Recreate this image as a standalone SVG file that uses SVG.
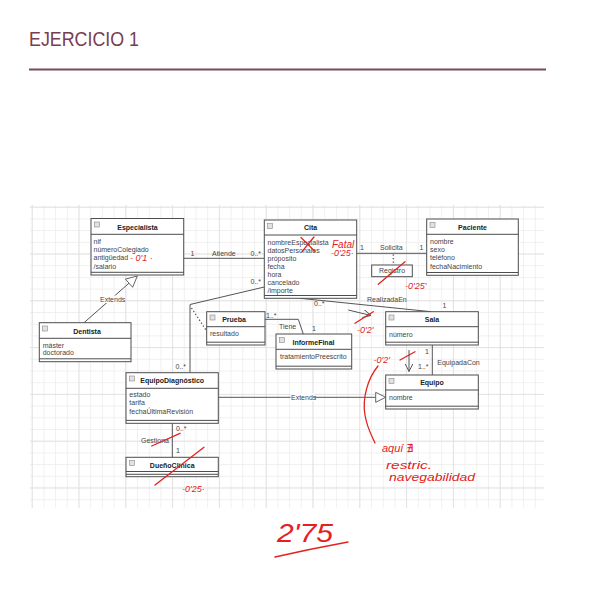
<svg xmlns="http://www.w3.org/2000/svg" width="600" height="611" viewBox="0 0 600 611">
<defs>
<pattern id="g" x="31.7" y="206.7" width="11.7" height="11.7" patternUnits="userSpaceOnUse"><path d="M0 0.4H11.7M0.4 0V11.7" stroke="#ebebeb" stroke-width="0.8" fill="none"/></pattern>
<pattern id="G" x="31.7" y="206.7" width="46.8" height="46.8" patternUnits="userSpaceOnUse"><path d="M0 0.4H46.8M0.4 0V46.8" stroke="#dedede" stroke-width="0.9" fill="none"/></pattern>
<marker id="open" viewBox="0 0 10 10" refX="10" refY="5" markerWidth="8" markerHeight="8" orient="auto" markerUnits="userSpaceOnUse"><path d="M0 0L10 5L0 10" fill="none" stroke="#555" stroke-width="1.2"/></marker>
</defs>
<style>
.box{fill:#fff;stroke:#4d4d4d;stroke-width:1}
.sep{stroke:#4d4d4d;stroke-width:1;fill:none}
.ic{fill:#e2e2e2;stroke:#888;stroke-width:0.6}
.t{font-family:"Liberation Sans",Arial,sans-serif;font-size:7px;fill:#444}
.ti{font-family:"Liberation Sans",Arial,sans-serif;font-size:7px;font-weight:bold;fill:#222;text-anchor:middle}
.ln{stroke:#555;stroke-width:1;fill:none}
.dot{stroke:#555;stroke-width:1.3;fill:none;stroke-dasharray:1.3 2.2}
.tri{fill:#fff;stroke:#666;stroke-width:1}
.red{stroke:#e3221d;stroke-width:1.3;fill:none;stroke-linecap:round}
.rt{font-family:"Liberation Sans","DejaVu Sans",sans-serif;font-style:italic;fill:#e3221d;font-size:9px}
.rl{font-size:11px}
</style>

<text x="29" y="45.5" font-family="Liberation Sans, Arial, sans-serif" font-size="21" fill="#7a3d50" textLength="110" lengthAdjust="spacingAndGlyphs">EJERCICIO 1</text>
<line x1="29" y1="69.5" x2="546" y2="69.5" stroke="#7a4a5a" stroke-width="2.2"/>

<rect x="30" y="205" width="514" height="303" fill="#fff"/>
<rect x="30" y="205" width="514" height="303" fill="url(#g)"/>
<rect x="30" y="205" width="514" height="303" fill="url(#G)"/>

<g id="connectors">
  <line class="ln" x1="183.7" y1="258.3" x2="264.3" y2="258.3"/>
  <text class="t" x="190.5" y="255.8">1</text>
  <text class="t" x="212" y="255.8">Atiende</text>
  <text class="t" x="250.5" y="255.8">0..*</text>

  <line class="ln" x1="356.7" y1="253.3" x2="426.7" y2="253.3"/>
  <text class="t" x="360" y="249.5">1</text>
  <text class="t" x="380" y="249.8">Solicita</text>
  <text class="t" x="419.5" y="249.8">1</text>
  <line class="dot" x1="393.3" y1="254.5" x2="393.3" y2="265"/>

  <polyline class="ln" points="264.3,287 190,304.5 190,372.7"/>
  <text class="t" x="250.5" y="283.5">0..*</text>
  <text class="t" x="175.5" y="369">0..*</text>
  <line class="dot" x1="191.5" y1="308" x2="206" y2="330"/>

  <line class="ln" x1="300" y1="298.3" x2="431" y2="311.7"/>
  <text class="t" x="314" y="306.3">0..*</text>
  <text class="t" x="367" y="301.5">RealizadaEn</text>
  <text class="t" x="442.5" y="307.5">1</text>
  <line class="ln" x1="348.3" y1="310" x2="371" y2="315.5" marker-end="url(#open)"/>

  <polyline class="ln" points="265,319.3 298.3,319.3 303.3,334"/>
  <text class="t" x="266" y="317.5">1..*</text>
  <text class="t" x="279" y="328.5">Tiene</text>
  <text class="t" x="312" y="331">1</text>

  <line class="ln" x1="432.3" y1="345" x2="432.3" y2="375"/>
  <text class="t" x="425" y="354.2">1</text>
  <text class="t" x="418" y="369">1..*</text>
  <text class="t" x="437.3" y="365.2">EquipadaCon</text>
  <line class="ln" x1="409" y1="350" x2="409" y2="371.5" marker-end="url(#open)"/>

  <line class="ln" x1="218.3" y1="397.3" x2="375.7" y2="397.3"/>
  <rect x="290.5" y="393.5" width="24" height="7.5" fill="#fff"/>
  <text class="t" x="291" y="399.8">Extends</text>
  <polygon class="tri" points="375.7,392.3 385.7,397.3 375.7,402.3"/>

  <line class="ln" x1="84" y1="322.7" x2="129" y2="283.2"/>
  <rect x="99.5" y="295.5" width="24" height="7.5" fill="#fff"/>
  <text class="t" x="100" y="301.5">Extends</text>
  <polygon class="tri" points="137.3,276 132.6,287.3 125.4,279.1"/>

  <line class="ln" x1="172.3" y1="423.3" x2="172.3" y2="457.3"/>
  <text class="t" x="176" y="430.8">0..*</text>
  <text class="t" x="141" y="442.5">Gestiona</text>
  <text class="t" x="176" y="453.2">1</text>
</g>

<g id="Especialista">
  <rect class="box" x="91" y="218.5" width="92.7" height="56.5"/>
  <rect class="ic" x="94.3" y="222" width="5" height="5"/>
  <line class="sep" x1="91" y1="234.3" x2="183.7" y2="234.3"/>
  <line class="sep" x1="91" y1="272.3" x2="183.7" y2="272.3"/>
  <text class="ti" x="137.5" y="230">Especialista</text>
  <text class="t" x="93.5" y="244.2">nif</text>
  <text class="t" x="93.5" y="252.3">númeroColegiado</text>
  <text class="t" x="93.5" y="260.4">antigüedad</text>
  <text class="t" x="93.5" y="268.5">/salario</text>
</g>

<g id="Cita">
  <rect class="box" x="264.3" y="220" width="92.4" height="78.3"/>
  <rect class="ic" x="267.5" y="223.5" width="5" height="5"/>
  <line class="sep" x1="264.3" y1="235" x2="356.7" y2="235"/>
  <line class="sep" x1="264.3" y1="295.5" x2="356.7" y2="295.5"/>
  <text class="ti" x="310.5" y="230">Cita</text>
  <text class="t" x="267.5" y="244.8">nombreEspecialista</text>
  <text class="t" x="267.5" y="252.6">datosPersonales</text>
  <text class="t" x="267.5" y="260.5">próposito</text>
  <text class="t" x="267.5" y="268.6">fecha</text>
  <text class="t" x="267.5" y="276.6">hora</text>
  <text class="t" x="267.5" y="284.8">cancelado</text>
  <text class="t" x="267.5" y="292.8">/importe</text>
</g>

<g id="Paciente">
  <rect class="box" x="426.7" y="219" width="91.6" height="56.3"/>
  <rect class="ic" x="430" y="222.5" width="5" height="5"/>
  <line class="sep" x1="426.7" y1="234.3" x2="518.3" y2="234.3"/>
  <line class="sep" x1="426.7" y1="272.5" x2="518.3" y2="272.5"/>
  <text class="ti" x="472.5" y="230">Paciente</text>
  <text class="t" x="430" y="244.2">nombre</text>
  <text class="t" x="430" y="252.2">sexo</text>
  <text class="t" x="430" y="260.2">teléfono</text>
  <text class="t" x="430" y="268.5">fechaNacimiento</text>
</g>

<g id="Registro">
  <rect class="box" x="371.7" y="265" width="40.6" height="11.7"/>
  <text class="t" x="392" y="273.4" text-anchor="middle">Registro</text>
</g>

<g id="Dentista">
  <rect class="box" x="39.3" y="322.7" width="91.7" height="39"/>
  <rect class="ic" x="42.5" y="326" width="5" height="5"/>
  <line class="sep" x1="39.3" y1="338.3" x2="131" y2="338.3"/>
  <line class="sep" x1="39.3" y1="358.8" x2="131" y2="358.8"/>
  <text class="ti" x="87" y="333.5">Dentista</text>
  <text class="t" x="42.7" y="347.5">máster</text>
  <text class="t" x="42.7" y="355.3">doctorado</text>
</g>

<g id="Prueba">
  <rect class="box" x="206.7" y="311.7" width="58.3" height="33.3"/>
  <rect class="ic" x="210" y="315" width="5" height="5"/>
  <line class="sep" x1="206.7" y1="326.7" x2="265" y2="326.7"/>
  <line class="sep" x1="206.7" y1="342.2" x2="265" y2="342.2"/>
  <text class="ti" x="234" y="321.8">Prueba</text>
  <text class="t" x="210" y="335.8">resultado</text>
</g>

<g id="InformeFinal">
  <rect class="box" x="276" y="334" width="75.7" height="35"/>
  <rect class="ic" x="279.3" y="337.5" width="5" height="5"/>
  <line class="sep" x1="276" y1="349.3" x2="351.7" y2="349.3"/>
  <line class="sep" x1="276" y1="366.2" x2="351.7" y2="366.2"/>
  <text class="ti" x="313.5" y="344.8">InformeFinal</text>
  <text class="t" x="280" y="359.2">tratamientoPreescrito</text>
</g>

<g id="Sala">
  <rect class="box" x="385.7" y="311.7" width="92.6" height="33.3"/>
  <rect class="ic" x="389" y="315" width="5" height="5"/>
  <line class="sep" x1="385.7" y1="326.7" x2="478.3" y2="326.7"/>
  <line class="sep" x1="385.7" y1="342.2" x2="478.3" y2="342.2"/>
  <text class="ti" x="432" y="321.8">Sala</text>
  <text class="t" x="389" y="336.5">número</text>
</g>

<g id="Equipo">
  <rect class="box" x="385.7" y="375" width="92.6" height="34"/>
  <rect class="ic" x="389" y="378.3" width="5" height="5"/>
  <line class="sep" x1="385.7" y1="390" x2="478.3" y2="390"/>
  <line class="sep" x1="385.7" y1="406.2" x2="478.3" y2="406.2"/>
  <text class="ti" x="432" y="384.8">Equipo</text>
  <text class="t" x="389" y="399.8">nombre</text>
</g>

<g id="EquipoDiagnostico">
  <rect class="box" x="126" y="372.7" width="92.3" height="50.6"/>
  <rect class="ic" x="129.3" y="376" width="5" height="5"/>
  <line class="sep" x1="126" y1="388.3" x2="218.3" y2="388.3"/>
  <line class="sep" x1="126" y1="420.4" x2="218.3" y2="420.4"/>
  <text class="ti" x="172.2" y="382.6">EquipoDiagnóstico</text>
  <text class="t" x="129.3" y="396.8">estado</text>
  <text class="t" x="129.3" y="404.8">tarifa</text>
  <text class="t" x="129.3" y="413.5">fechaÚltimaRevisión</text>
</g>

<g id="DuenoClinica">
  <rect class="box" x="126" y="457.3" width="92.3" height="19.4"/>
  <rect class="ic" x="129.3" y="460.5" width="5" height="5"/>
  <line class="sep" x1="126" y1="471.5" x2="218.3" y2="471.5"/>
  <line class="sep" x1="126" y1="474.3" x2="218.3" y2="474.3"/>
  <text class="ti" x="172.2" y="467.8">DueñoClínica</text>
</g>

<g id="correcciones">
  <text class="rt" x="130" y="260.5">- 0'1 ·</text>
  <line class="red" x1="301" y1="237.5" x2="315" y2="251.5"/>
  <line class="red" x1="314" y1="237" x2="302" y2="251.7"/>
  <text class="rt" x="332" y="247.5" style="font-size:10px">Fatal</text>
  <text class="rt" x="331" y="256">-0'25·</text>
  <line class="red" x1="378.3" y1="284.3" x2="405" y2="261.7"/>
  <text class="rt" x="405" y="288.5">-0'25'</text>
  <line class="red" x1="355" y1="323.3" x2="373.3" y2="311.7"/>
  <text class="rt" x="357" y="333">-0'2'</text>
  <line class="red" x1="400" y1="360" x2="415" y2="351.7"/>
  <text class="rt" x="373.5" y="363">-0'2'</text>
  <path class="red" d="M378,366 C368,378 362,398 365,415 C367,428 372,436 375,443"/>
  <line class="red" x1="151.7" y1="446" x2="180" y2="433.3"/>
  <line class="red" x1="155" y1="485" x2="204" y2="447.3"/>
  <text class="rt" x="182" y="491.5">-0'25·</text>
  <text class="rt" x="382" y="451.5" style="font-size:11px">aquí ∄</text>
  <text class="rt" x="386" y="469" style="font-size:11px" textLength="46" lengthAdjust="spacingAndGlyphs">restric.</text>
  <text class="rt" x="389" y="481" style="font-size:11px" textLength="86" lengthAdjust="spacingAndGlyphs">navegabilidad</text>
  <text class="rt" x="277" y="541.5" style="font-size:26px" textLength="56" lengthAdjust="spacingAndGlyphs">2'75</text>
  <path class="red" d="M275,557 Q310,549 348,542" stroke-width="1.5"/>
</g>
</svg>
